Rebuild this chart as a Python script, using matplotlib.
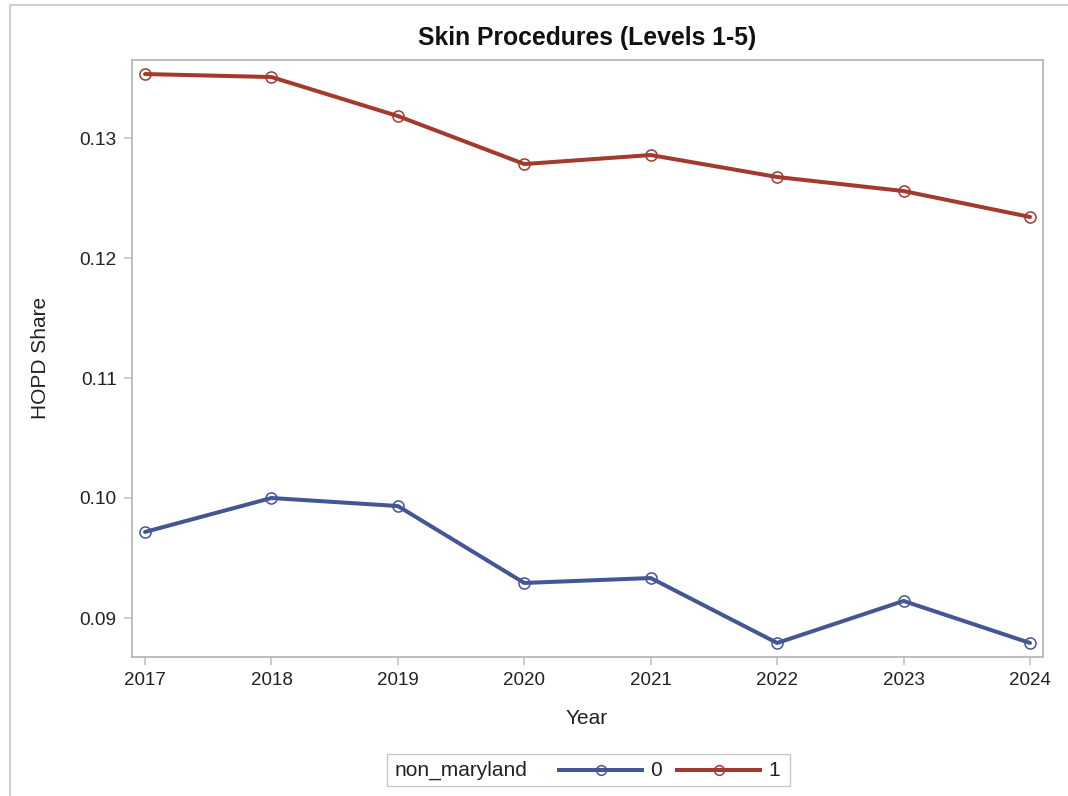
import matplotlib
matplotlib.use("Agg")
import matplotlib.pyplot as plt
from matplotlib.lines import Line2D
from matplotlib.patches import Rectangle

years = [2017, 2018, 2019, 2020, 2021, 2022, 2023, 2024]
share_0 = [0.09717, 0.1000, 0.09933, 0.09292, 0.09333, 0.08792, 0.09142, 0.08792]
share_1 = [0.13533, 0.13508, 0.13183, 0.12783, 0.12858, 0.12675, 0.12558, 0.12342]
yticks = [0.09, 0.10, 0.11, 0.12, 0.13]
ytick_labels = ["0.09", "0.10", "0.11", "0.12", "0.13"]

plt.rcParams['font.family'] = ['Liberation Sans', 'DejaVu Sans']

W, H = 1068, 796
fig = plt.figure(figsize=(W / 100, H / 100), dpi=100)
ax = fig.add_axes([132 / W, 1 - 657 / H, (1043 - 132) / W, (657 - 60) / H])

c0 = '#445694'
c1 = '#A23A2E'
for vals, col in [(share_0, c0), (share_1, c1)]:
    ax.plot(years, vals, color=col, lw=2.9, marker='o', ms=8, mfc='none',
            mec=col, mew=1.1, solid_capstyle='round')

ax.set_xlim(2016.897, 2024.103)
ax.set_ylim(0.08675, 0.1365)
ax.set_xticks(years)
ax.set_xticklabels([str(y) for y in years], fontsize=13.5, color='#222222')
ax.set_yticks(yticks)
ax.set_yticklabels(ytick_labels, fontsize=13.8, color='#222222')
ax.tick_params(axis='both', length=6, width=1.2, color='#c0c4c8', pad=5)
for s in ax.spines.values():
    s.set_color('#b0b4b8')
    s.set_linewidth(1.2)

fig.text(587 / W, 1 - 38 / H, 'Skin Procedures (Levels 1-5)', ha='center', va='center',
         fontsize=17.8, fontweight='bold', color='#111111')
fig.text(587 / W, 1 - 719 / H, 'Year', ha='center', va='center', fontsize=15, color='#222222')
fig.text(40 / W, 1 - 358 / H, 'HOPD Share', ha='center', va='center', rotation=90,
         fontsize=15, color='#222222')

# outer frame
fig.add_artist(Line2D([10 / W, 1.0], [1 - 5 / H, 1 - 5 / H], transform=fig.transFigure,
                      color='#d0d0d0', lw=1.5))
fig.add_artist(Line2D([10 / W, 10 / W], [0.0, 1 - 5 / H], transform=fig.transFigure,
                      color='#d0d0d0', lw=1.5))

# legend
fig.add_artist(Rectangle((387 / W, 1 - 786 / H), (790 - 387) / W, 32 / H,
                         transform=fig.transFigure, fill=False, ec='#c8c8c8', lw=1.0))
ly = 1 - 770 / H
fig.text(395 / W, ly, 'non_maryland', ha='left', va='center', fontsize=15, color='#222222')
for x0, x1, col, lab in [(559, 642, c0, '0'), (677, 760, c1, '1')]:
    fig.add_artist(Line2D([x0 / W, x1 / W], [ly, ly], transform=fig.transFigure,
                          color=col, lw=2.9))
    fig.add_artist(Line2D([(x0 + x1) / 2 / W], [ly], transform=fig.transFigure,
                          marker='o', ms=7, mfc='none', mec=col, mew=1.1, ls='none'))
    fig.text((x1 + 8) / W, ly, lab, ha='left', va='center', fontsize=15, color='#222222')

fig.savefig('out.png', dpi=100)
